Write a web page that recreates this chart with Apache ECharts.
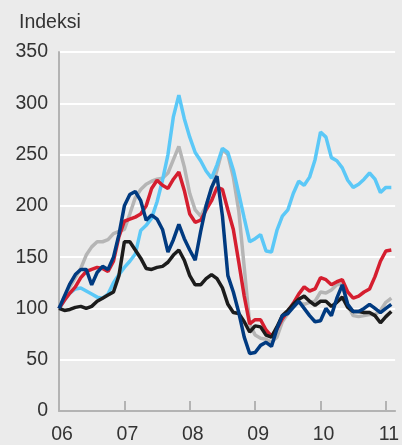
<!DOCTYPE html>
<html>
<head>
<meta charset="utf-8">
<script src="https://cdn.jsdelivr.net/npm/echarts@6/dist/echarts.min.js"></script>
<style>
  html, body { margin: 0; padding: 0; background: #ebebeb; }
  #chart { width: 402px; height: 445px; }
</style>
</head>
<body>
<div id="chart"></div>
<script>
// monthly index, Jan 2006 = 100 (Jan 2006 .. Feb 2011)
const yearLabels = ['06', '07', '08', '09', '10', '11']
const lightBlue = [100, 108, 115, 119, 120, 117, 114, 111, 110, 114, 125, 133, 140, 146, 153, 176, 181, 188, 204, 225, 250, 287, 308, 285, 267, 252, 244, 234, 227, 240, 256, 252, 235, 212, 188, 165, 168, 172, 156, 155, 176, 190, 196, 212, 224, 220, 228, 245, 272, 267, 247, 244, 237, 225, 218, 221, 226, 232, 226, 213, 218, 218]
const red = [100, 108, 115, 121, 130, 136, 138, 140, 139, 136, 146, 170, 185, 187, 189, 192, 200, 217, 225, 220, 217, 226, 233, 215, 192, 184, 186, 196, 205, 218, 216, 196, 177, 145, 112, 85, 89, 89, 79, 73, 80, 90, 97, 105, 114, 121, 117, 119, 130, 128, 123, 126, 128, 116, 110, 112, 116, 119, 131, 146, 156, 157]
const gray = [100, 112, 121, 130, 139, 152, 160, 165, 165, 167, 173, 175, 177, 192, 208, 216, 221, 224, 226, 227, 232, 245, 258, 238, 212, 196, 190, 200, 216, 235, 255, 250, 228, 195, 140, 85, 74, 71, 70, 67, 72, 87, 95, 103, 106, 104, 106, 107, 116, 115, 118, 123, 124, 103, 93, 92, 93, 94, 94, 98, 106, 110]
const darkBlue = [100, 112, 124, 133, 138, 138, 123, 135, 141, 138, 150, 172, 200, 211, 214, 205, 186, 191, 187, 177, 155, 167, 182, 168, 157, 147, 175, 200, 218, 229, 190, 132, 116, 96, 72, 56, 57, 64, 67, 63, 80, 93, 95, 101, 107, 100, 93, 87, 88, 100, 93, 110, 123, 104, 97, 97, 100, 104, 100, 96, 100, 104]
const black = [100, 98, 99, 101, 102, 100, 102, 107, 110, 113, 116, 132, 165, 165, 157, 149, 139, 138, 140, 141, 145, 152, 157, 147, 132, 123, 123, 129, 133, 129, 120, 104, 96, 95, 87, 77, 83, 82, 74, 72, 82, 93, 98, 104, 109, 112, 107, 103, 107, 107, 102, 106, 111, 101, 97, 97, 96, 96, 93, 86, 92, 97]

const axisColor = '#b3b3b3'
const textColor = '#333'

function line (name, data, color) {
  return {
    name: name,
    type: 'line',
    data: data.map((v, i) => [i, v]),
    symbol: 'none',
    lineStyle: { color: color, width: 3.5 },
    itemStyle: { color: color },
    animation: false
  }
}

const chart = echarts.init(document.getElementById('chart'))
chart.setOption({
  backgroundColor: '#ebebeb',
  textStyle: { fontFamily: 'Liberation Sans, Arial, sans-serif' },
  title: {
    text: 'Indeksi',
    left: 14,
    top: 8,
    textStyle: { fontSize: 19.5, fontWeight: 'normal', color: textColor }
  },
  grid: { left: 59, right: 2, top: 52, bottom: 33 },
  xAxis: {
    type: 'value',
    min: 0,
    max: 61.7,
    interval: 12,
    axisLine: { lineStyle: { color: axisColor, width: 2 } },
    axisTick: { show: true, inside: true, length: 10, lineStyle: { color: axisColor, width: 2 } },
    splitLine: { show: false },
    axisLabel: {
      margin: 14,
      fontSize: 19.5,
      color: textColor,
      padding: [0, 0, 0, 6],
      showMaxLabel: false,
      formatter: v => (v % 12 === 0 ? yearLabels[v / 12] : '')
    }
  },
  yAxis: {
    type: 'value',
    min: 0,
    max: 350,
    interval: 50,
    axisLine: { show: true, lineStyle: { color: axisColor, width: 2 } },
    axisTick: { show: false },
    splitLine: { lineStyle: { color: '#ffffff', width: 2 } },
    axisLabel: { margin: 11, fontSize: 19.5, color: textColor }
  },
  series: [
    line('gray', gray, '#b5b5b5'),
    line('lightBlue', lightBlue, '#5bc8f7'),
    line('red', red, '#d51e2f'),
    line('black', black, '#1c1c1c'),
    line('darkBlue', darkBlue, '#003a80')
  ]
})
</script>
</body>
</html>
